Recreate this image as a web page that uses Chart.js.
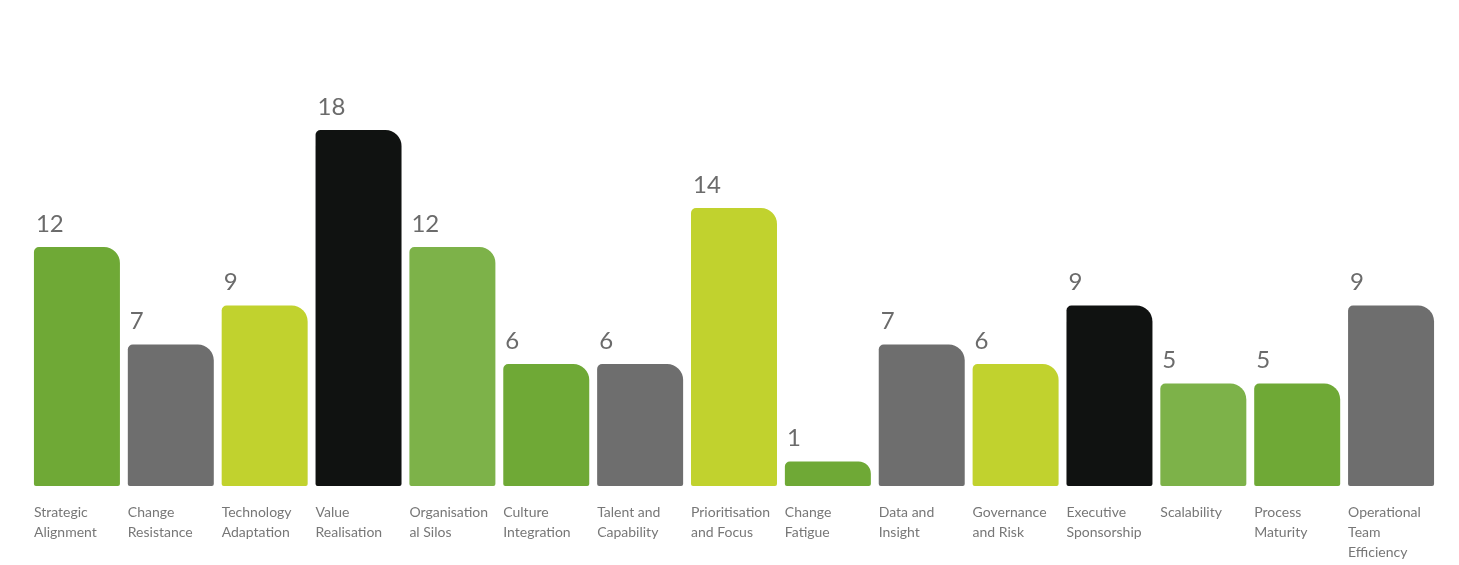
<!DOCTYPE html>
<html>
<head>
<meta charset="utf-8">
<script src="https://cdn.jsdelivr.net/npm/chart.js@4.4.1/dist/chart.umd.min.js"></script>
<style>
  html, body { margin: 0; padding: 0; background: #ffffff; }
  #wrap { width: 1459px; height: 565px; }
</style>
</head>
<body>
<div id="wrap"><canvas id="barChart"></canvas></div>
<script>
const categories = [
    ["Strategic", "Alignment"],
    ["Change", "Resistance"],
    ["Technology", "Adaptation"],
    ["Value", "Realisation"],
    ["Organisation", "al Silos"],
    ["Culture", "Integration"],
    ["Talent and", "Capability"],
    ["Prioritisation", "and Focus"],
    ["Change", "Fatigue"],
    ["Data and", "Insight"],
    ["Governance", "and Risk"],
    ["Executive", "Sponsorship"],
    ["Scalability"],
    ["Process", "Maturity"],
    ["Operational", "Team", "Efficiency"]
];
const values = [12, 7, 9, 18, 12, 6, 6, 14, 1, 7, 6, 9, 5, 5, 9];

const GREEN = "#6fa936";
const GREY = "#6e6e6e";
const LIME = "#c1d22e";
const BLACK = "#101211";
const LIGHT_GREEN = "#7db249";
const barColors = [GREEN, GREY, LIME, BLACK, LIGHT_GREEN, GREEN, GREY, LIME, GREEN, GREY, LIME, BLACK, LIGHT_GREEN, GREEN, GREY];

// bars sit a little below the zero line in the original
const baseValue = -0.26;

// value labels above each bar
const valueLabels = {
    id: "valueLabels",
    afterDatasetsDraw(chart) {
        const ctx = chart.ctx;
        const meta = chart.getDatasetMeta(0);
        ctx.save();
        ctx.font = "24px Lato, 'Noto Sans', sans-serif";
        ctx.fillStyle = "#6b6b6b";
        ctx.textAlign = "left";
        ctx.textBaseline = "alphabetic";
        meta.data.forEach((bar, i) => {
            const left = bar.x - bar.width / 2;
            ctx.fillText(String(values[i]), left + 2, bar.y - 15);
        });
        ctx.restore();
    }
};

const ctx = document.getElementById("barChart").getContext("2d");
new Chart(ctx, {
    type: "bar",
    data: {
        labels: categories,
        datasets: [{
            data: values.map(v => [baseValue, v]),
            backgroundColor: barColors,
            borderWidth: 0,
            borderSkipped: false,
            borderRadius: { topLeft: 5, topRight: 16, bottomLeft: 2, bottomRight: 2 },
            categoryPercentage: 1,
            barPercentage: 0.916
        }]
    },
    options: {
        responsive: true,
        maintainAspectRatio: false,
        animation: false,
        layout: {
            padding: { top: 130, left: 30, right: 21, bottom: 0 }
        },
        plugins: {
            legend: { display: false },
            tooltip: { enabled: false }
        },
        scales: {
            x: {
                grid: { display: false, drawTicks: false },
                border: { display: false },
                afterFit(scale) {
                    scale.height = 79;
                    scale.paddingLeft = 0;
                    scale.paddingRight = 0;
                },
                ticks: {
                    autoSkip: false,
                    maxRotation: 0,
                    minRotation: 0,
                    align: "start",
                    labelOffset: -43,
                    padding: 16,
                    color: "#777777",
                    font: { family: "Lato, 'Noto Sans', sans-serif", size: 14, lineHeight: 1.43 }
                }
            },
            y: {
                display: false,
                min: baseValue,
                max: 18
            }
        }
    },
    plugins: [valueLabels]
});
</script>
</body>
</html>
